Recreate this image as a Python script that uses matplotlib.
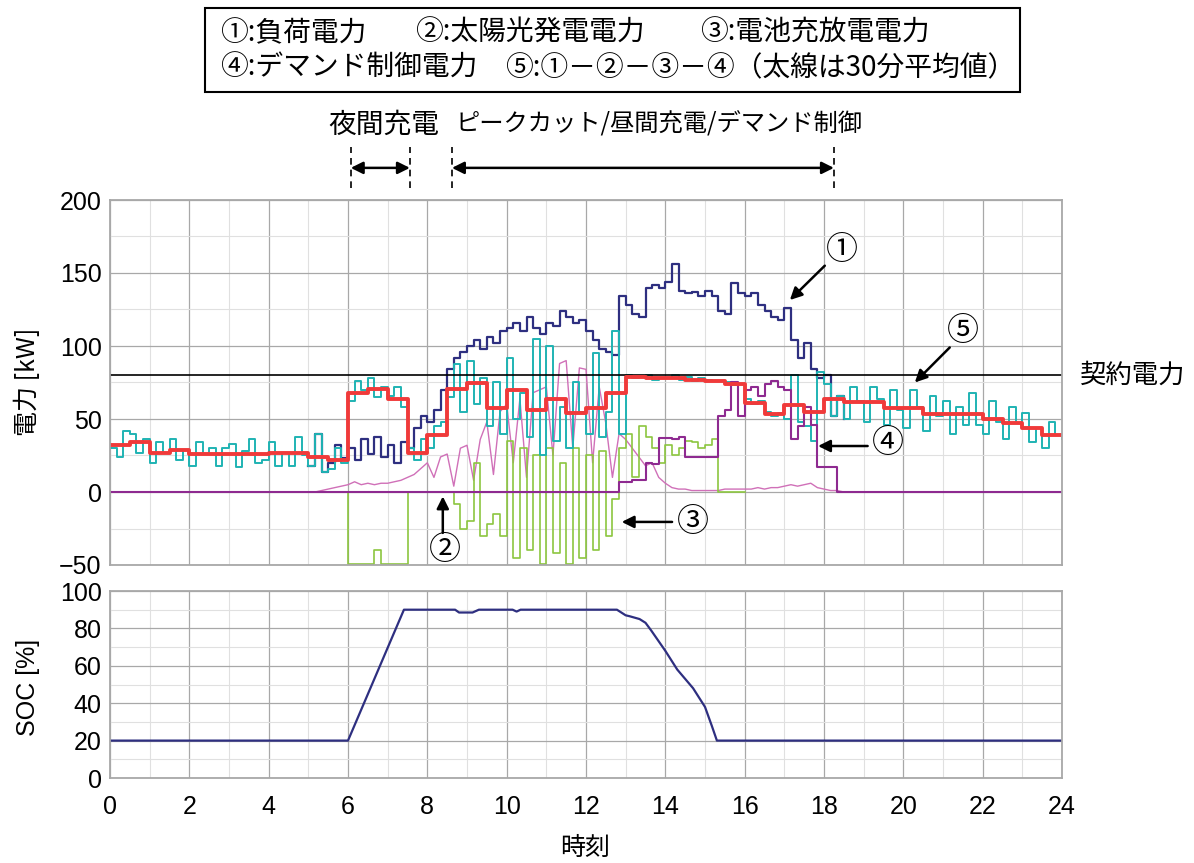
import numpy as np
import matplotlib
matplotlib.use('Agg')
import matplotlib.pyplot as plt
from matplotlib.ticker import MultipleLocator

plt.rcParams['font.family'] = ['Noto Sans CJK JP', 'DejaVu Sans']
NUM_FONT = ['Liberation Sans Narrow', 'Liberation Sans', 'DejaVu Sans']

###############################################
# 10-minute samples (kW)

# (5) net = (1)-(2)-(3)-(4), 0:00 .. 24:00
net_kw = [
  30, 24, 42, 40, 27, 36,   # 0h
  20, 34, 27, 36, 22, 29,   # 1h
  18, 34, 26, 30, 18, 30,   # 2h
  33, 17, 28, 36, 20, 22,   # 3h
  34, 18, 27, 18, 38, 25,   # 4h
  18, 40, 14, 16, 30, 20,   # 5h
  62, 76, 70, 78, 65, 72,   # 6h
  66, 72, 58, 30, 22, 36,   # 7h
  30, 45, 48, 65, 88, 55,   # 8h
  90, 60, 78, 45, 75, 40,   # 9h
  92, 50, 68, 38, 105, 25,  # 10h
  100, 35, 58, 30, 75, 55,  # 11h
  40, 95, 38, 55, 110, 40,  # 12h
  80, 78, 79, 80, 77, 78,   # 13h
  78, 80, 77, 79, 76, 78,   # 14h
  77, 76, 76, 75, 73, 74,   # 15h
  64, 60, 62, 55, 52, 54,   # 16h
  50, 80, 48, 45, 35, 82,   # 17h
  74, 52, 66, 50, 72, 62,   # 18h
  48, 72, 64, 46, 70, 56,   # 19h
  44, 70, 58, 42, 66, 52,   # 20h
  62, 40, 58, 46, 68, 46,   # 21h
  40, 62, 48, 36, 58, 47,   # 22h
  54, 34, 44, 30, 48, 39,   # 23h
  36]

# (1) load, 5:00 .. 18:30 (elsewhere equal to net)
load_start = 5.0
load_kw = [
  18, 40, 14, 20, 32, 23,        # 5h
  30, 22, 36, 26, 38, 24,        # 6h
  32, 20, 34, 30, 44, 52,        # 7h
  48, 56, 70, 84, 92, 96,        # 8h
  100, 104, 98, 106, 102, 110,   # 9h
  112, 116, 110, 120, 112, 108,  # 10h
  116, 114, 124, 120, 116, 118,  # 11h
  110, 104, 98, 96, 94, 134,     # 12h
  128, 122, 120, 140, 142, 140,  # 13h
  144, 156, 138, 136, 137, 134,  # 14h
  138, 134, 124, 122, 143, 136,  # 15h
  134, 136, 128, 124, 120, 118,  # 16h
  126, 104, 92, 102, 84, 78,     # 17h
  80, 52, 66, 50]                # 18h

# (2) PV, 5:00 .. 19:00
pv_start = 5.0
pv_kw = [
  0, 0, 1, 2, 3, 4,
  5, 7, 5, 6, 5, 6,
  6, 7, 8, 10, 12, 16,
  20, 10, 24, 26, 4, 30,
  32, 8, 36, 48, 12, 55,
  60, 20, 64, 10, 68, 70,
  72, 25, 88, 90, 30, 85,
  84, 20, 72, 47, 10, 40,
  36, 30, 24, 18, 20, 10,
  6, 3, 2, 2, 1, 1,
  1, 1, 1, 2, 2, 2,
  2, 2, 3, 2, 3, 3,
  4, 5, 4, 5, 6, 3,
  2, 1, 1, 0, 0, 0,
  0]

# (3) battery charge/discharge, 5:00 .. 16:00
batt_start = 5.0
batt_kw = [
  0, 0, 0, 0, 0, 0,
  -49, -49, -49, -49, -40, -49,
  -49, -49, -49, 0, 0, 0,
  0, 0, 0, 0, -8, -25,
  -20, 20, -30, -22, -15, -30,
  35, -45, 30, -40, 25, -49,
  30, -42, 20, -49, 30, -45,
  25, -40, 28, -30, -5, 30,
  40, 10, 45, 38, 30, 20,
  32, 25, 30, 35, 34, 30,
  32, 36, 0, 0, 0, 0,
  0]

# (4) demand control, 0:00 .. 24:00
demand_kw = [0] * 72 + [
  0, 0, 0, 0, 0, 7,        # 12h
  7, 8, 8, 20, 19, 37,     # 13h
  37, 36, 38, 24, 24, 24,  # 14h
  24, 24, 52, 56, 75, 52,  # 15h
  70, 72, 66, 74, 76, 72,  # 16h
  70, 36, 45, 58, 46, 17,  # 17h
  17, 17, 0, 0] + [0] * 33

# (5) 30-minute averages
avg30_kw = [32, 34, 27, 29, 26, 26, 26, 26, 26.5, 27, 24, 22,
            68, 70.5, 64, 27, 39, 70.5, 74.5, 57.5, 70, 56, 64, 54,
            57.5, 68, 79, 78, 78, 77, 76, 74, 61, 53.5, 59.6, 55,
            64, 61.6, 61.6, 57.5, 57.5, 53.4, 53.4, 53.4, 50, 47, 44, 39]

contract_kw = 80

soc_t = [0, 6.0, 7.41, 8.7, 8.8, 9.14, 9.3, 10.15, 10.25, 10.35, 12.78, 13.0,
         13.1, 13.35, 13.5, 13.64, 14.0, 14.3, 14.7, 15.0, 15.17, 15.3, 24]
soc_pct = [20, 20, 90, 90, 88.5, 88.5, 90, 90, 89, 90, 90, 87,
           86.5, 85, 83, 79, 68, 58, 48, 38, 28, 20, 20]

###############################################

W, H = 1194, 863


def frac(x0, y0, x1, y1):
  return [x0 / W, 1 - y1 / H, (x1 - x0) / W, (y1 - y0) / H]


def t10(start, vals):
  return start + np.arange(len(vals)) / 6.0


def styleAx(a):
  a.grid(which='major', color='#a8a8a8', lw=0.9)
  a.grid(which='minor', color='#e0e0e0', lw=0.8)
  a.set_axisbelow(True)
  for s in a.spines.values():
    s.set_color('#a8a8a8')
    s.set_linewidth(1.3)
  a.tick_params(which='both', length=0)
  a.xaxis.set_major_locator(MultipleLocator(2))
  a.xaxis.set_minor_locator(MultipleLocator(1))
  a.set_xlim(0, 24)


fig = plt.figure(figsize=(11.94, 8.63), dpi=100)
ax = fig.add_axes(frac(110, 200, 1062, 565))
ax2 = fig.add_axes(frac(110, 591, 1062, 778))

styleAx(ax)
ax.set_ylim(-50, 200)
ax.yaxis.set_major_locator(MultipleLocator(50))
ax.yaxis.set_minor_locator(MultipleLocator(25))
ax.set_xticklabels([])

ax.plot(t10(pv_start, pv_kw), pv_kw, color='#d070b8', lw=1.0)
ax.plot(t10(batt_start, batt_kw), batt_kw, color='#8cc63f', lw=1.2, drawstyle='steps-post')
ax.plot(t10(load_start, load_kw), load_kw, color='#2e2f80', lw=1.6, drawstyle='steps-post')
ax.plot(t10(0, net_kw), net_kw, color='#1fb3b3', lw=1.4, drawstyle='steps-post')
ax.plot(t10(0, demand_kw), demand_kw, color='#8e2a90', lw=1.5, drawstyle='steps-post')
ax.axhline(contract_kw, color='black', lw=1.2)
t30 = np.arange(len(avg30_kw) + 1) * 0.5
ax.plot(t30, avg30_kw + [avg30_kw[-1]], color='#f03a3a', lw=2.8, drawstyle='steps-post')

for lab in ax.get_yticklabels():
  lab.set_family(NUM_FONT)
  lab.set_fontsize(18)
ax.tick_params(axis='y', pad=6)

# bottom: SOC
styleAx(ax2)
ax2.set_ylim(0, 100)
ax2.yaxis.set_major_locator(MultipleLocator(20))
ax2.yaxis.set_minor_locator(MultipleLocator(10))
ax2.plot(soc_t, soc_pct, color='#2e2f80', lw=1.6)
for lab in ax2.get_yticklabels() + ax2.get_xticklabels():
  lab.set_family(NUM_FONT)
  lab.set_fontsize(18)
ax2.tick_params(axis='y', pad=6)
ax2.tick_params(axis='x', pad=12)

# axis labels
fig.text(28 / W, 1 - 382 / H, '電力 [kW]', rotation=90, ha='center', va='center', fontsize=18)
fig.text(28 / W, 1 - 687 / H, 'SOC [%]', rotation=90, ha='center', va='center', fontsize=18,
         family=['Liberation Sans', 'DejaVu Sans'])
fig.text(585 / W, 1 - 848 / H, '時刻', ha='center', va='center', fontsize=18)
fig.text(1133 / W, 1 - 375 / H, '契約電力', ha='center', va='center', fontsize=19)

# legend box
fig.add_artist(plt.Rectangle((205 / W, 1 - 92 / H), 815 / W, 84 / H, transform=fig.transFigure,
                             fill=False, edgecolor='black', lw=1.5))
leg = [(220, 33, '①:負荷電力'), (415, 33, '②:太陽光発電電力'), (700, 33, '③:電池充放電電力'),
       (220, 68, '④:デマンド制御電力'), (505, 68, '⑤:①－②－③－④（太線は30分平均値）')]
for x, y, s in leg:
  fig.text(x / W, 1 - y / H, s, ha='left', va='center', fontsize=20)

# phase markers
fig.text(384 / W, 1 - 125 / H, '夜間充電', ha='center', va='center', fontsize=20)
fig.text(455 / W, 1 - 125 / H, 'ピークカット/昼間充電/デマンド制御', ha='left', va='center', fontsize=17.5)
for x0, x1 in [(6.07, 7.56), (8.62, 18.25)]:
  for xx in (x0, x1):
    ax.plot([xx, xx], [208, 236], color='black', lw=1.2, ls=(0, (4, 3)), clip_on=False)
  ax.annotate('', xy=(x1, 222), xytext=(x0, 222), annotation_clip=False,
              arrowprops=dict(arrowstyle='<|-|>', color='black', lw=1.8, mutation_scale=18,
                              shrinkA=0, shrinkB=0))

# in-chart callouts
calls = [('①', (18.45, 166), (18.02, 155), (17.14, 131.5)),
         ('⑤', (21.5, 110), (21.17, 99), (20.29, 75)),
         ('④', (19.61, 33.5), (19.1, 31.5), (17.85, 31.5)),
         ('③', (14.7, -20.5), (14.17, -20.5), (12.9, -20.5)),
         ('②', (8.44, -40), (8.39, -28), (8.39, -3))]
for s, tp, a0, a1 in calls:
  ax.text(tp[0], tp[1], s, ha='center', va='center', fontsize=23)
  ax.annotate('', xy=a1, xytext=a0,
              arrowprops=dict(arrowstyle='-|>', color='black', lw=1.8, mutation_scale=18,
                              shrinkA=0, shrinkB=0))

fig.savefig('out.png', dpi=100)
